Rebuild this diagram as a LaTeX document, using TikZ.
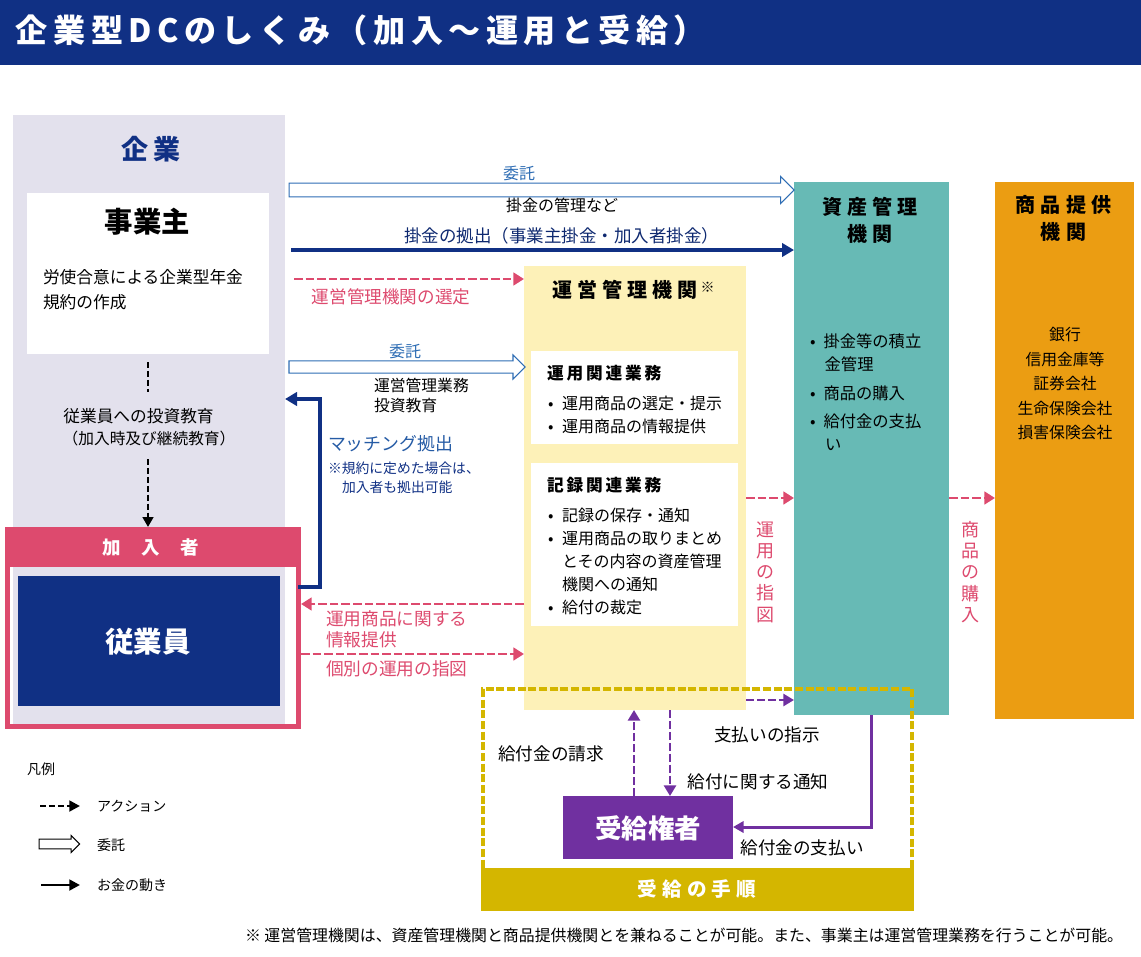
\documentclass[tikz,border=0pt]{standalone}
\usepackage{fontspec}
\usepackage{xcolor}
\usetikzlibrary{arrows.meta,shapes.arrows}
\setmainfont{Noto Sans CJK JP}
\newfontfamily\lsa[LetterSpace=17]{Noto Sans CJK JP}
\newfontfamily\lsb[LetterSpace=26]{Noto Sans CJK JP}
\newfontfamily\lsc[LetterSpace=110]{Noto Sans CJK JP}
\definecolor{navy}{HTML}{103084}
\definecolor{lilac}{HTML}{E3E1ED}
\definecolor{rose}{HTML}{DD4A6E}
\definecolor{cream}{HTML}{FDF1B8}
\definecolor{teal}{HTML}{67BAB5}
\definecolor{amber}{HTML}{EB9D12}
\definecolor{gold}{HTML}{D4B600}
\definecolor{violet}{HTML}{7030A0}
\definecolor{wire}{HTML}{2E6DB4}
\newcommand{\pxs}[2]{\fontsize{\dimexpr#1pt*3/4\relax}{\dimexpr#2pt*3/4\relax}\selectfont}
\begin{document}
\begin{tikzpicture}[x=.75pt, y=-.75pt, line cap=butt,
        every node/.append style={inner sep=0pt, outer sep=0pt}]
      \tikzstyle{box} = [anchor=north west]
      \tikzstyle{word} = [font=\pxs{16}{23},align=left,color=black]
      \tikzstyle{rosedash} = [rose,line width=2pt,dash pattern=on 6.5pt off 2.2pt,-{Triangle[length=8pt,width=9.5pt]}]
      \tikzstyle{violetdash} = [violet,line width=2pt,dash pattern=on 6pt off 2.2pt,-{Triangle[length=8pt,width=9pt]}]
      \tikzstyle{blackdash} = [black,line width=2.2pt,dash pattern=on 4.5pt off 2.2pt,-{Triangle[length=7.5pt,width=8pt]}]
      \tikzstyle{entrust} = [single arrow,draw=wire,fill=white,line width=.8pt,anchor=west,
        inner xsep=0pt,inner ysep=4.8pt,single arrow head extend=4.9pt,minimum width=19.5pt]
      \useasboundingbox (0,0) rectangle (1141,956);
      % header
      \node (header) [box,fill=navy,minimum width=855.75pt,minimum height=48.75pt] at (0,0) {};
      \node (title) [anchor=west,text=white,font=\pxs{32.1}{36}\lsa\bfseries] at (16,30) {企業型DCのしくみ（加入～運用と受給）};
      % company side
      \node (kigyo) [box,fill=lilac,minimum width=204pt,minimum height=457.5pt] at (13,115) {};
      \node (kigyolabel) [text=navy,font=\pxs{27}{32}\lsa\bfseries] at (151,149) {企業};
      \node (jigyonushi) [box,fill=white,minimum width=181.5pt,minimum height=120.75pt] at (27,193) {};
      \node (jigyolabel) [word,font=\pxs{28.4}{30}\bfseries] at (147.5,222) {事業主};
      \node (kiyaku) [word,font=\pxs{16.7}{25},anchor=west] at (43,289.5) {労使合意による企業型年金\\規約の作成};
      \node (kyoiku) [word,font=\pxs{16.7}{23}] at (138.5,416) {従業員への投資教育};
      \node (kyoikub) [word,font=\pxs{15.7}{23}] at (149,439) {（加入時及び継続教育）};
      \node (kanyu) [box,draw=rose,line width=3.75pt,minimum width=218.25pt,minimum height=147.75pt] at (7.5,529.5) {};
      \node (kanyuhead) [box,fill=rose,minimum width=222pt,minimum height=30pt] at (5,527) {};
      \node (kanyulabel) [text=white,font=\pxs{18.5}{20}\lsc\bfseries] at (151,547) {加入者};
      \node (jugyoin) [box,fill=navy,minimum width=196.5pt,minimum height=97.5pt] at (18,576) {};
      \node (jugyolabel) [text=white,font=\pxs{28.5}{30}\bfseries] at (148,642) {従業員};
      % operations manager
      \node (unei) [box,fill=cream,minimum width=166.5pt,minimum height=333pt] at (524,266) {};
      \node (unlabel) [font=\pxs{20}{24}\lsb\bfseries,anchor=west] at (552,290) {運営管理機関\hspace{2pt}\raisebox{.5ex}{\pxs{14}{14}※}};
      \node (unyo) [box,fill=white,minimum width=155.25pt,minimum height=69.75pt] at (531,351) {};
      \node (kiroku) [box,fill=white,minimum width=155.25pt,minimum height=122.25pt] at (531,463) {};
      \node (unyohead) [anchor=west,font=\pxs{16.7}{20}\lsa\bfseries] at (547,373) {運用関連業務};
      \node (unyotext) [word,anchor=north west] at (548,396) {•\hspace{6.5pt}運用商品の選定・提示\\•\hspace{6.5pt}運用商品の情報提供};
      \node (kirokuhead) [anchor=west,font=\pxs{16.7}{20}\lsa\bfseries] at (547,485) {記録関連業務};
      \node (kirokutext) [word,anchor=north west] at (548,508) {•\hspace{6.5pt}記録の保存・通知\\•\hspace{6.5pt}運用商品の取りまとめ\\\hspace*{10.5pt}とその内容の資産管理\\\hspace*{10.5pt}機関への通知\\•\hspace{6.5pt}給付の裁定};
      % asset manager and product provider
      \node (shisan) [box,fill=teal,minimum width=116.25pt,minimum height=399.75pt] at (794,182) {};
      \node (shisanlabel) [align=center,font=\pxs{20}{27}\lsb\bfseries] at (870,220.5) {資産管理\\機関};
      \node (shisantext) [word,font=\pxs{16.3}{23},anchor=north west] at (810,334) {•\hspace{6pt}掛金等の積立\\\hspace*{11pt}金管理};
      \node (shisantext2) [word,font=\pxs{16.3}{28},anchor=north west] at (810,386) {•\hspace{6pt}商品の購入\\•\hspace{6pt}給付金の支払};
      \node (shisantext3) [word,font=\pxs{16.3}{23},anchor=west] at (825,445) {い};
      \node (shohin) [box,fill=amber,minimum width=104.25pt,minimum height=402.75pt] at (995,182) {};
      \node (shohinlabel) [align=center,font=\pxs{20}{27}\lsb\bfseries] at (1063.5,218.5) {商品提供\\機関};
      \node (shohintext) [word,align=center,font=\pxs{15.8}{24.5}] at (1065,384) {銀行\\信用金庫等\\証券会社\\生命保険会社\\損害保険会社};
      % entrusting arrows
      \node (itaku) [entrust,minimum height=378.75pt] at (289,190) {};
      \node (itakub) [entrust,minimum height=177pt,minimum width=17.3pt,inner ysep=4.2pt,single arrow head extend=4.4pt] at (289,367) {};
      \node (itakulabel) [text=wire,font=\pxs{16}{18}] at (519,173) {委託};
      \node (itakutext) [word,font=\pxs{16}{18}] at (562,205) {掛金の管理など};
      \node (itakublabel) [text=wire,font=\pxs{16}{18}] at (405,351) {委託};
      \node (itakubtext) [word,font=\pxs{15.8}{19.5},anchor=west] at (374,395.5) {運営管理業務\\投資教育};
      % money and actions
      \coordinate (kakesrc) at (291,250);
      \coordinate (sentei) at (294,279);
      \coordinate (matchbase) at (298,587);
      \coordinate (matchcorner) at (320,399);
      \coordinate (dasha) at (148,362);
      \coordinate (dashb) at (148,392);
      \coordinate (dashc) at (148,459);
      \draw[navy,line width=3pt,-{Triangle[length=9pt,width=10pt]}] (kakesrc) -- (kakesrc -| shisan.west);
      \node (kakelabel) [text=navy!85!black,font=\pxs{17.5}{20}] at (561.5,236) {掛金の拠出（事業主掛金・加入者掛金）};
      \draw[rosedash] (sentei) -- (sentei -| unei.west);
      \node (senteilabel) [text=rose,font=\pxs{17.6}{20}] at (391,297) {運営管理機関の選定};
      \draw[black,line width=2.2pt,dash pattern=on 4.5pt off 2.2pt] (dasha) -- (dashb);
      \draw[blackdash] (dashc) -- (dashc |- kanyuhead.north);
      \draw[navy,line width=3pt,-{Triangle[length=9pt,width=10pt]}] (matchbase) -| (matchcorner) -- (matchcorner -| kigyo.east);
      \node (matchlabel) [anchor=west,text=wire!70!navy,font=\pxs{17.9}{20}] at (328,444) {マッチング拠出};
      \node (matchnote) [anchor=west,text=navy,font=\pxs{13.8}{19},align=left] at (328,477.5) {※規約に定めた場合は、\\\hspace*{10.5pt}加入者も拠出可能};
      \coordinate (johoy) at (400,604);
      \coordinate (kobetsuy) at (400,654);
      \draw[rosedash] (johoy -| unei.west) -- (johoy -| kanyuhead.east) ;
      \node (joholabel) [anchor=west,text=rose,font=\pxs{17.7}{21},align=left] at (326,629.5) {運用商品に関する\\情報提供};
      \draw[rosedash] (kobetsuy -| kanyuhead.east) -- (kobetsuy -| unei.west);
      \node (kobetsulabel) [anchor=west,text=rose,font=\pxs{17.7}{20}] at (326,669) {個別の運用の指図};
      \coordinate (shijiy) at (760,498);
      \draw[rosedash] (shijiy -| unei.east) -- (shijiy -| shisan.west);
      \node (shijilabel) [text=rose,align=center,font=\pxs{18}{21.2}] at (765,572) {運\\用\\の\\指\\図};
      \draw[rosedash] (shijiy -| shisan.east) -- (shijiy -| shohin.west);
      \node (konyulabel) [text=rose,align=center,font=\pxs{18}{21.2}] at (970,572) {商\\品\\の\\購\\入};
      % benefit procedure
      \node (juken) [box,fill=violet,minimum width=127.5pt,minimum height=47.25pt] at (563,796) {};
      \node (jukenlabel) [text=white,font=\pxs{26.5}{30}\bfseries] at (648,828) {受給権者};
      \coordinate (shiharaiy) at (760,700);
      \draw[violetdash] (shiharaiy -| unei.east) -- (shiharaiy -| shisan.west);
      \draw[violetdash] (juken.north -| 634,0) -- (unei.south -| 634,0);
      \draw[violetdash] (unei.south -| 670,0) -- (juken.north -| 670,0);
      \draw[violet,line width=2.25pt,-{Triangle[length=8pt,width=8.5pt]}] (shisan.south -| 871,0) |- (juken.east |- 0,827);
      \node (seikyu) [word,font=\pxs{17.6}{20}] at (551,754) {給付金の請求};
      \node (shiji) [word,font=\pxs{17.6}{20}] at (767,735) {支払いの指示};
      \node (tsuchi) [word,font=\pxs{17.6}{20}] at (758,782) {給付に関する通知};
      \node (shiharai) [word,font=\pxs{17.6}{20}] at (802,848) {給付金の支払い};
      \draw[gold,line width=3pt,dash pattern=on 6pt off 2pt] (912,868) -- (912,689) -- (483,689) -- (483,868);
      \node (tejun) [box,fill=gold,minimum width=324.75pt,minimum height=32.25pt] at (481,868) {};
      \node (tejunlabel) [text=white,font=\pxs{19.6}{20}\lsb\bfseries] at (697,889) {受給の手順};
      % legend
      \node (hanrei) [anchor=west,word,font=\pxs{14}{15}] at (27,769) {凡例};
      \coordinate (lega) at (40,806);
      \coordinate (legaend) at (80,806);
      \coordinate (legc) at (41,885);
      \coordinate (legcend) at (80,885);
      \draw[blackdash,-{Triangle[length=8pt,width=8pt]}] (lega) -- (legaend);
      \node (legb) [single arrow,draw=black,fill=white,line width=.75pt,anchor=west,inner xsep=0pt,inner ysep=3.3pt,minimum height=30.5pt,minimum width=12pt,single arrow head extend=2.7pt] at (39,844) {};
      \draw[black,line width=2pt,-{Triangle[length=8pt,width=8pt]}] (legc) -- (legcend);
      \node (legatext) [anchor=west,word,font=\pxs{14}{15}] at (97,806) {アクション};
      \node (legbtext) [anchor=west,word,font=\pxs{14}{15}] at (97,845) {委託};
      \node (legctext) [anchor=west,word,font=\pxs{14}{15}] at (97,885) {お金の動き};
      \node (footnote) [anchor=west,word,font=\pxs{15.9}{18}] at (245,935) {※ 運営管理機関は、資産管理機関と商品提供機関とを兼ねることが可能。また、事業主は運営管理業務を行うことが可能。};
    \end{tikzpicture}
\end{document}
